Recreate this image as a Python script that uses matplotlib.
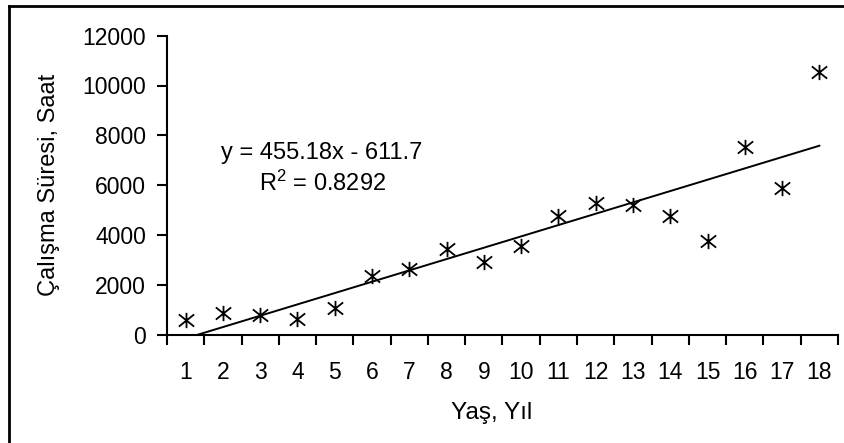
import matplotlib
matplotlib.use("Agg")
import matplotlib.pyplot as plt
from matplotlib.path import Path
from matplotlib.lines import Line2D
import numpy as np

plt.rcParams['font.family'] = ['Liberation Sans', 'DejaVu Sans']
plt.rcParams['mathtext.fontset'] = 'custom'
plt.rcParams['mathtext.rm'] = 'Liberation Sans'
plt.rcParams['mathtext.it'] = 'Liberation Sans:italic'

# ---- data ----
years = list(range(1, 19))
hours = [570, 850, 780, 620, 1050, 2340, 2620, 3420, 2900,
         3560, 4760, 5270, 5200, 4760, 3770, 7550, 5900, 10550]
slope = 455.18
intercept = -611.7
r2 = 0.8292
y_ticks = [0, 2000, 4000, 6000, 8000, 10000, 12000]
x_label = "Yaş, Yıl"
y_label = "Çalışma Süresi, Saat"

W, H = 845, 443
fig = plt.figure(figsize=(W / 100, H / 100), dpi=100)
ax = fig.add_axes([167 / W, 1 - 334.5 / H, (838 - 167) / W, (334.5 - 35.7) / H])

# asterisk marker: X plus vertical bar
star = Path([(-1, -0.8), (1, 0.8), (-1, 0.8), (1, -0.8), (0, -1), (0, 1)],
            [Path.MOVETO, Path.LINETO, Path.MOVETO, Path.LINETO, Path.MOVETO, Path.LINETO])
ax.plot(years, hours, linestyle='none', marker=star, markersize=11,
        markeredgewidth=1.3, color='black', markerfacecolor='none')

# trendline
tx = np.array([years[0], years[-1]], dtype=float)
ax.plot(tx, slope * tx + intercept, color='black', linewidth=1.4)

ax.set_xlim(0.5, 18.5)
ax.set_ylim(0, 12000)

ax.set_xticks(years)
ax.set_xticklabels([str(v) for v in years])
ax.set_xticks(np.arange(0.5, 19, 1.0), minor=True)
ax.tick_params(axis='x', which='major', length=0, pad=19, labelsize=16.5)
ax.tick_params(axis='x', which='minor', length=7, width=1.5, direction='out')
ax.set_yticks(y_ticks)
ax.set_yticklabels([str(v) for v in y_ticks])
ax.tick_params(axis='y', length=7, width=1.5, direction='out', pad=8, labelsize=16.5)

for s in ['top', 'right']:
    ax.spines[s].set_visible(False)
for s in ['left', 'bottom']:
    ax.spines[s].set_linewidth(1.5)

ax.text(4.66, 7285, f"y = {slope}x - {abs(intercept)}", ha='center', va='center', fontsize=17)
ax.text(4.66, 6076, r"R$^{\mathrm{2}}$ = " + f"{r2}", ha='center', va='center', fontsize=17)

fig.text(492 / W, 1 - 413 / H, x_label, ha='center', va='center', fontsize=17.5)
fig.text(49 / W, 1 - 185 / H, y_label, ha='center', va='center', rotation=90, fontsize=17)

# outer frame (left and top edges visible)
fig.add_artist(Line2D([9 / W, 9 / W], [0, 1 - 6 / H], color='black', linewidth=2,
                      transform=fig.transFigure))
fig.add_artist(Line2D([9 / W, 1], [1 - 6 / H, 1 - 6 / H], color='black', linewidth=2,
                      transform=fig.transFigure))

fig.savefig("out.png", dpi=100)
